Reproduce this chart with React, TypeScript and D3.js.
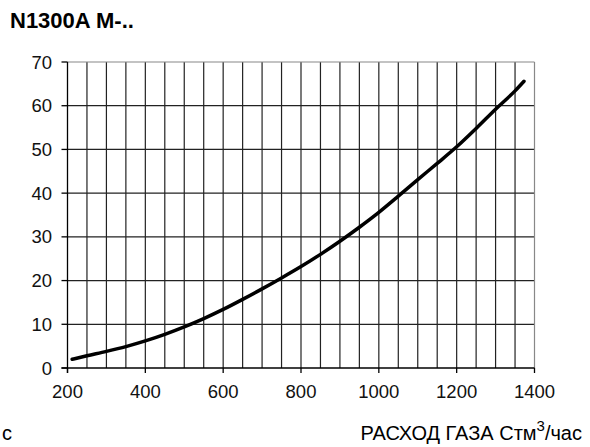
import React from "react";
import * as d3 from "d3";

const title = "N1300A M-..";
const xLabel = "РАСХОД ГАЗА Стм";
const xLabelSup = "3";
const xLabelTail = "/час";
const leftFragment = "c";

const flow = [212, 250, 300, 350, 400, 450, 500, 550, 600, 650, 700, 750, 800, 850, 900, 950, 1000, 1050, 1100, 1150, 1200, 1250, 1300, 1350, 1373];
const pressure = [2.0, 2.8, 3.8, 4.9, 6.2, 7.7, 9.4, 11.3, 13.4, 15.7, 18.1, 20.6, 23.2, 26.0, 29.0, 32.2, 35.6, 39.3, 43.1, 46.8, 50.6, 54.8, 59.2, 63.4, 65.6];

const xTicks = [200, 400, 600, 800, 1000, 1200, 1400];
const xGrid = [250, 300, 350, 400, 450, 500, 550, 600, 650, 700, 750, 800, 850, 900, 950, 1000, 1050, 1100, 1150, 1200, 1250, 1300, 1350];
const yTicks = [0, 10, 20, 30, 40, 50, 60, 70];

export default function App() {
  const W = 590, H = 447;
  const x = d3.scaleLinear().domain([200, 1400]).range([67.5, 534.5]);
  const y = d3.scaleLinear().domain([0, 70]).range([368, 62]);
  const pts = flow.map((f, i) => [f, pressure[i]] as [number, number]);
  const line = d3.line<[number, number]>().x(d => x(d[0])).y(d => y(d[1])).curve(d3.curveMonotoneX);
  const font = "Arial, 'Liberation Sans', sans-serif";
  return (
    <svg width={W} height={H} style={{ position: "absolute", left: 0, top: 0 }} fontFamily={font}>
      <rect width={W} height={H} fill="#fff" />
      <text x={10} y={28} fontSize={22} fontWeight="bold" fill="#000">{title}</text>
      {xGrid.map(v => (
        <line key={"vg" + v} x1={x(v)} x2={x(v)} y1={y(70)} y2={y(0)} stroke="#222" strokeWidth={1.2} />
      ))}
      {yTicks.filter(v => v > 0 && v < 70).map(v => (
        <line key={"hg" + v} x1={x(200)} x2={x(1400)} y1={y(v)} y2={y(v)} stroke="#222" strokeWidth={1.2} />
      ))}
      <line x1={x(200)} x2={x(1400)} y1={y(70)} y2={y(70)} stroke="#888" strokeWidth={1.2} />
      <line x1={x(1400)} x2={x(1400)} y1={y(70)} y2={y(0)} stroke="#888" strokeWidth={1.2} />
      <line x1={x(200)} x2={x(200)} y1={y(70)} y2={y(0) + 5} stroke="#000" strokeWidth={1.3} />
      <line x1={x(200) - 6} x2={x(1400)} y1={y(0)} y2={y(0)} stroke="#000" strokeWidth={1.3} />
      {yTicks.map(v => (
        <g key={"yt" + v}>
          <line x1={x(200) - 6} x2={x(200)} y1={y(v)} y2={y(v)} stroke="#000" strokeWidth={1.3} />
          <text x={52} y={y(v) + 6.5} fontSize={18.5} textAnchor="end" fill="#111">{v}</text>
        </g>
      ))}
      {xTicks.map(v => (
        <g key={"xt" + v}>
          <line x1={x(v)} x2={x(v)} y1={y(0)} y2={y(0) + 5} stroke="#000" strokeWidth={1.3} />
          <text x={x(v)} y={398} fontSize={18.5} textAnchor="middle" fill="#111">{v}</text>
        </g>
      ))}
      <path d={line(pts) || ""} fill="none" stroke="#000" strokeWidth={3.5} strokeLinecap="round" />
      <text x={2} y={439.5} fontSize={20} fill="#000">{leftFragment}</text>
      <text x={582} y={439.5} fontSize={20} textAnchor="end" fill="#000">
        {xLabel}
        <tspan dy={-9} fontSize={15}>{xLabelSup}</tspan>
        <tspan dy={9}>{xLabelTail}</tspan>
      </text>
    </svg>
  );
}
